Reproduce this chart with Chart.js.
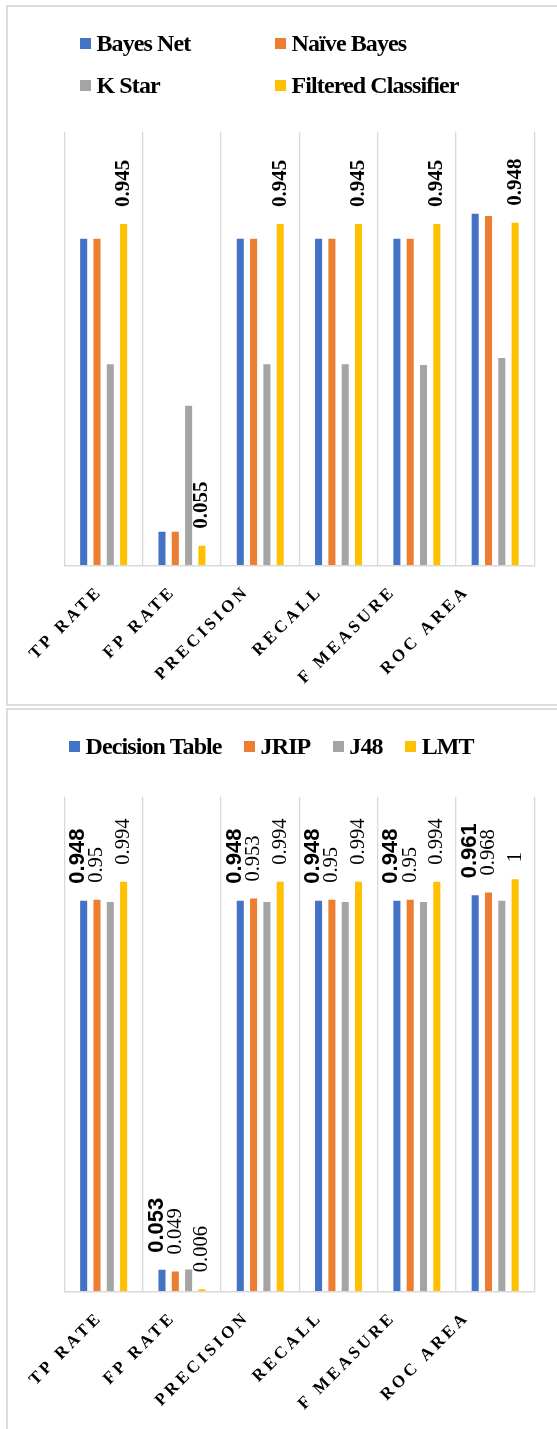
<!DOCTYPE html>
<html>
<head>
<meta charset="utf-8">
<script src="https://cdn.jsdelivr.net/npm/chart.js@4.4.0/dist/chart.umd.min.js"></script>
<style>
  html, body { margin: 0; padding: 0; background: #fff; }
  body { position: relative; width: 557px; height: 1429px; overflow: hidden; }
  .panel { position: absolute; left: 6px; width: 620px; border: 2px solid #dcdcdc; box-sizing: border-box; }
  #p1 { top: 5px; height: 701px; }
  #p2 { top: 708px; height: 780px; }
  canvas { position: absolute; left: 0; }
  #c1 { top: 0; }
  #c2 { top: 708px; }
  .legend { position: absolute; font: bold 24px "Liberation Serif", "Times New Roman", serif; letter-spacing: -0.9px; color: #000; }
  .legend .item { display: flex; align-items: center; white-space: nowrap; }
  .legend .sw { width: 11px; height: 11px; margin-right: 5.5px; flex: none; }
  #lg1 { left: 80px; top: 22px; display: grid; grid-template-columns: 195px auto; grid-auto-rows: 42px; }
  #lg2 { left: 69px; top: 725px; height: 42px; display: flex; gap: 22.5px; }
</style>
</head>
<body>
<div class="panel" id="p1"></div>
<div class="panel" id="p2"></div>
<canvas id="c1" width="557" height="705"></canvas>
<canvas id="c2" width="557" height="721"></canvas>
<div class="legend" id="lg1"></div>
<div class="legend" id="lg2"></div>
<script>
// Evaluation metrics (shared category axis)
const categories = ['TP RATE', 'FP RATE', 'PRECISION', 'RECALL', 'F MEASURE', 'ROC AREA'];

// Upper chart: Bayes Net, Naïve Bayes, K Star, Filtered Classifier
const bayesNet           = [0.904, 0.094, 0.904, 0.904, 0.904, 0.973];
const naiveBayes         = [0.904, 0.094, 0.904, 0.904, 0.904, 0.967];
const kStar              = [0.557, 0.442, 0.557, 0.557, 0.555, 0.574];
const filteredClassifier = [0.945, 0.055, 0.945, 0.945, 0.945, 0.948];

// Lower chart: Decision Table, JRIP, J48, LMT
const decisionTable = [0.948, 0.053, 0.948, 0.948, 0.948, 0.961];
const jrip          = [0.95, 0.049, 0.953, 0.95, 0.95, 0.968];
const j48           = [0.945, 0.054, 0.945, 0.945, 0.945, 0.948];
const lmt           = [0.994, 0.006, 0.994, 0.994, 0.994, 1];

const yMax = 1.2;

const BLUE = '#4472C4', ORANGE = '#ED7D31', GRAY = '#A5A5A5', GOLD = '#FFC000';

// Vertical value labels written above the bars of selected series
const barValueLabels = {
  id: 'barValueLabels',
  afterDatasetsDraw(chart) {
    const ctx = chart.ctx;
    chart.data.datasets.forEach((ds, i) => {
      const st = ds.valueLabel;
      if (!st) return;
      chart.getDatasetMeta(i).data.forEach((bar, j) => {
        ctx.save();
        ctx.translate(bar.x + (st.dx || 0), bar.y - st.gap);
        ctx.rotate(-Math.PI / 2);
        ctx.font = st.font;
        ctx.fillStyle = '#000';
        ctx.textAlign = 'left';
        ctx.textBaseline = 'middle';
        ctx.fillText(String(ds.data[j]), 0, 0);
        ctx.restore();
      });
    });
  }
};

// Letter-spaced category labels (drawn after the datasets)
const spacedTicks = {
  id: 'spacedTicks',
  afterDatasetsDraw(chart, args, opts) { chart.ctx.letterSpacing = opts.spacing || '0px'; },
  afterDraw(chart) { chart.ctx.letterSpacing = '0px'; }
};

// HTML legend built from the chart's own legend items
function htmlLegend(containerId) {
  return {
    id: 'htmlLegend',
    afterUpdate(chart) {
      const box = document.getElementById(containerId);
      box.innerHTML = '';
      const items = chart.options.plugins.legend.labels.generateLabels(chart);
      items.forEach(item => {
        const el = document.createElement('div');
        el.className = 'item';
        const sw = document.createElement('span');
        sw.className = 'sw';
        sw.style.background = item.fillStyle;
        const tx = document.createElement('span');
        tx.textContent = item.text;
        el.append(sw, tx);
        box.appendChild(el);
      });
    }
  };
}

function buildChart(canvasId, legendId, series, geom) {
  return new Chart(document.getElementById(canvasId), {
    type: 'bar',
    data: {
      labels: categories,
      datasets: series.map(s => ({
        label: s.name,
        data: s.values,
        backgroundColor: s.color,
        xAxisID: 'x',
        yAxisID: 'y',
        categoryPercentage: 0.68,
        barPercentage: 0.53,
        valueLabel: s.valueLabel
      }))
    },
    options: {
      responsive: false,
      animation: false,
      devicePixelRatio: 1,
      layout: { padding: { top: geom.top, left: 64.5, right: 22.7, bottom: 0 } },
      plugins: {
        legend: { display: false },
        tooltip: { enabled: false },
        spacedTicks: { spacing: '3.4px' }
      },
      scales: {
        // bar positions and category separators
        x: {
          type: 'category',
          position: 'bottom',
          weight: 0,
          offset: true,
          grid: { display: true, offset: true, color: '#d9d9d9', lineWidth: 1.3, drawTicks: false },
          border: { display: true, color: '#d9d9d9', width: 1.6, z: 1 },
          ticks: { display: false },
          afterFit: s => { s.height = 0; }
        },
        // slanted metric names under the plot
        xl: {
          type: 'linear',
          position: 'bottom',
          weight: 1,
          offset: false,
          min: -0.484,
          max: 5.923,
          bounds: 'data',
          grid: { display: false },
          border: { display: false },
          afterBuildTicks: s => { s.ticks = categories.map((_, i) => ({ value: i })); },
          ticks: {
            autoSkip: false,
            minRotation: 45,
            maxRotation: 45,
            padding: 8,
            z: 1,
            color: '#000',
            font: { family: '"Liberation Serif", "Times New Roman", serif', weight: 'bold', size: 17 },
            callback: v => categories[v]
          },
          afterFit: s => { s.height = geom.axisBand; }
        },
        y: { display: false, min: 0, max: yMax }
      }
    },
    plugins: [barValueLabels, spacedTicks, htmlLegend(legendId)]
  });
}

const serifBold = 'bold 21px "Liberation Serif", "Times New Roman", serif';
const serifPlain = 'normal 20.5px "Liberation Serif", "Times New Roman", serif';
const sansBold = 'bold 22px "Liberation Sans", Arial, sans-serif';

buildChart('c1', 'lg1', [
  { name: 'Bayes Net', values: bayesNet, color: BLUE },
  { name: 'Naïve Bayes', values: naiveBayes, color: ORANGE },
  { name: 'K Star', values: kStar, color: GRAY },
  { name: 'Filtered Classifier', values: filteredClassifier, color: GOLD,
    valueLabel: { font: serifBold, gap: 17, dx: 0 } }
], { top: 131.7, axisBand: 139.3 });

buildChart('c2', 'lg2', [
  { name: 'Decision Table', values: decisionTable, color: BLUE,
    valueLabel: { font: sansBold, gap: 17, dx: -5.5 } },
  { name: 'JRIP', values: jrip, color: ORANGE,
    valueLabel: { font: serifPlain, gap: 17, dx: 0 } },
  { name: 'J48', values: j48, color: GRAY },
  { name: 'LMT', values: lmt, color: GOLD,
    valueLabel: { font: serifPlain, gap: 17, dx: 0 } }
], { top: 88.7, axisBand: 137.3 });
</script>
</body>
</html>
